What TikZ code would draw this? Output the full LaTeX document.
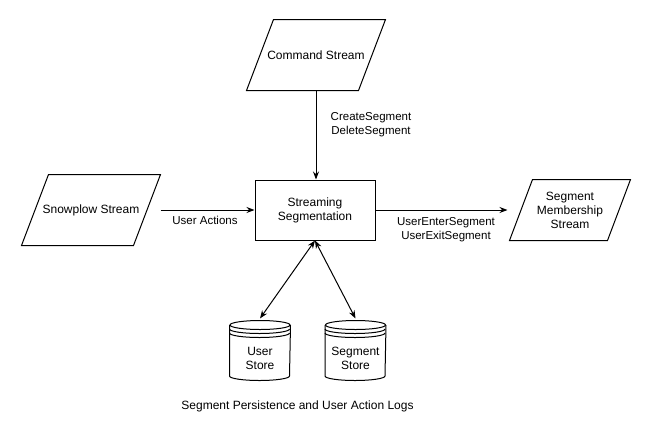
\documentclass[tikz,border=0pt]{standalone}
\usepackage{fontspec}
\setmainfont{Liberation Sans}
\usetikzlibrary{arrows.meta}

\tikzset{
  shapetxt/.style={font=\fontsize{12}{14}\selectfont, align=center, inner sep=0pt},
  edgetxt/.style={font=\fontsize{11.5}{14}\selectfont, align=center, inner sep=0pt},
  flow/.style={-{Stealth[length=8pt,width=6pt]}},
  twoway/.style={{Stealth[length=8pt,width=6pt]}-{Stealth[length=8pt,width=6pt]}},
}

\begin{document}
\begin{tikzpicture}[x=1pt,y=1pt,line width=1pt]
    \useasboundingbox (0,0) rectangle (651,-440);
    % streams
    \node[shapetxt, minimum width=138pt, minimum height=70pt] (cmd) at (316,-55) {Command Stream};
    \draw ([xshift=27pt]cmd.north west) -- (cmd.north east) -- ([xshift=-27pt]cmd.south east) -- (cmd.south west) -- cycle;
    \node[shapetxt, minimum width=138pt, minimum height=70pt] (snow) at (91,-210) {Snowplow Stream};
    \draw ([xshift=27pt]snow.north west) -- (snow.north east) -- ([xshift=-27pt]snow.south east) -- (snow.south west) -- cycle;
    \node[shapetxt, minimum width=120pt, minimum height=60pt] (memb) at (570,-210) {Segment\\Membership\\Stream};
    \draw ([xshift=23pt]memb.north west) -- (memb.north east) -- ([xshift=-23pt]memb.south east) -- (memb.south west) -- cycle;
    % processor
    \node[shapetxt, draw, minimum width=120pt, minimum height=60pt] (seg) at (315,-210) {Streaming\\Segmentation};
    % stores
    \node[minimum width=60pt, minimum height=59pt, inner sep=0pt] (user) at (260,-350.5) {};
    \node[minimum width=60pt, minimum height=59pt, inner sep=0pt] (segstore) at (355.5,-350.5) {};
    \foreach \s in {user,segstore} {
      \draw ([yshift=-4.5pt]\s.north west) -- ([yshift=4.5pt]\s.south west)
        arc[start angle=180, end angle=360, x radius=30pt, y radius=4.5pt] -- ([yshift=-4.5pt]\s.north east);
      \draw ([yshift=-4.5pt]\s.north) ellipse [x radius=30pt, y radius=4.5pt];
      \draw ([yshift=-8.5pt]\s.north west) arc[start angle=180, end angle=360, x radius=30pt, y radius=4.5pt];
      \draw ([yshift=-12.5pt]\s.north west) arc[start angle=180, end angle=360, x radius=30pt, y radius=4.5pt];
    }
    \node[shapetxt] (usertxt) at ([yshift=-8pt]user.center) {User\\Store};
    \node[shapetxt] (segstoretxt) at ([yshift=-8pt]segstore.center) {Segment\\Store};
    % connectors
    \draw[flow] (cmd.south) -- (cmd.south |- seg.north);
    \draw[flow] (snow.east) -- (seg.west);
    \draw[flow] (seg.east) -- ([xshift=-2pt]memb.west);
    \draw[twoway] (seg.south) -- ([yshift=2pt]user.north);
    \draw[twoway] (seg.south) -- ([yshift=2pt]segstore.north);
    % labels
    \node[edgetxt] (cmds) at (371,-124.5) {CreateSegment\\DeleteSegment};
    \node[edgetxt] (acts) at (205,-220) {User Actions};
    \node[edgetxt] (evts) at (446,-229.5) {UserEnterSegment\\UserExitSegment};
    \node[shapetxt] (logs) at (297.5,-406) {Segment Persistence and User Action Logs};
\end{tikzpicture}
\end{document}
